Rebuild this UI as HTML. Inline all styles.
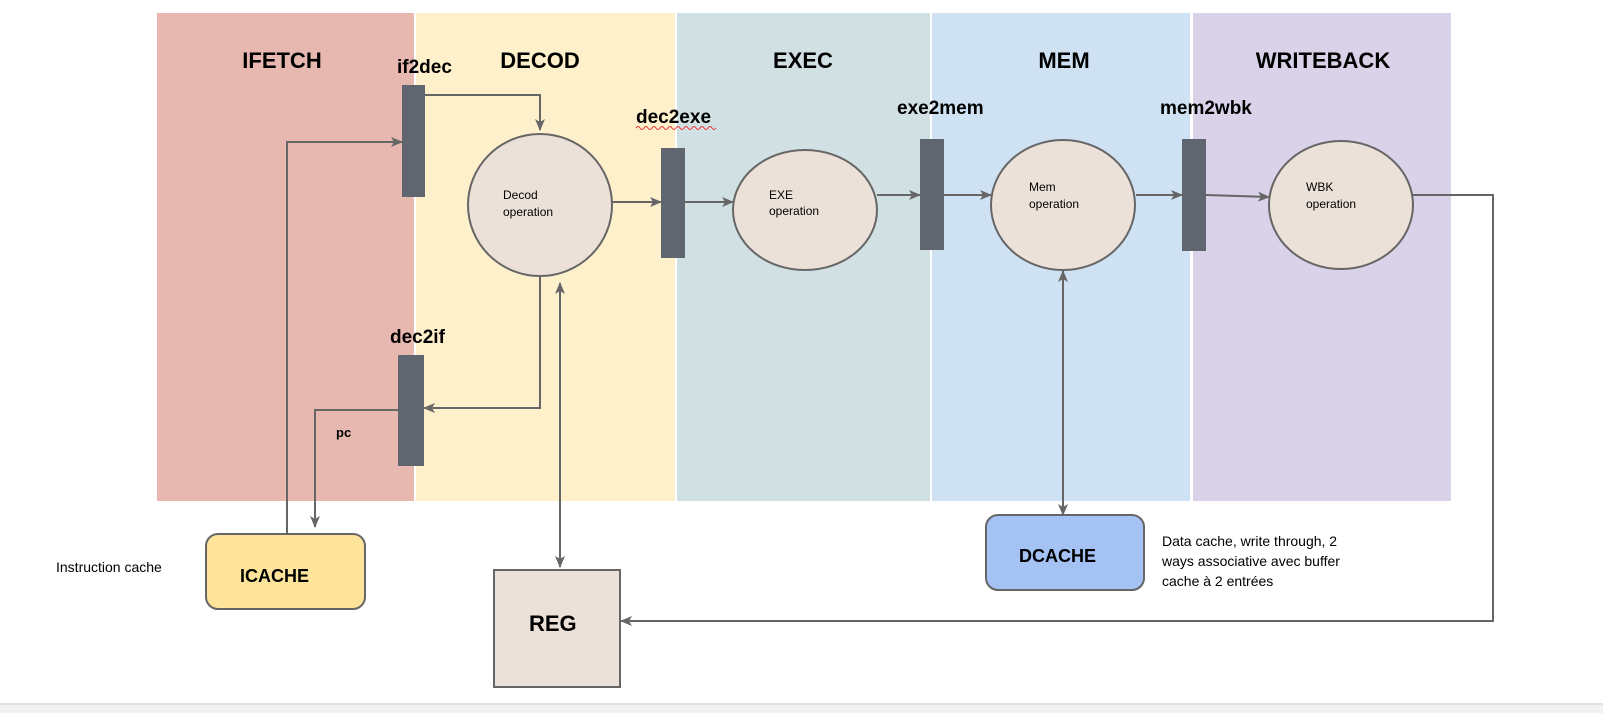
<!DOCTYPE html>
<html><head><meta charset="utf-8"><style>
body{margin:0;width:1603px;height:713px;overflow:hidden;background:#fff;font-family:"Liberation Sans",sans-serif}
</style></head><body>
<svg width="1603" height="713" xmlns="http://www.w3.org/2000/svg" font-family="Liberation Sans, sans-serif">
<defs>
<marker id="a" markerWidth="12" markerHeight="10" refX="11" refY="5" orient="auto-start-reverse" markerUnits="userSpaceOnUse"><path d="M0,0 L12,5 L0,10 L3,5 Z" fill="#666"/></marker>
</defs>
<rect x="0" y="704" width="1603" height="9" fill="#f1f1f1"/>
<rect x="0" y="703" width="1603" height="2" fill="#e2e2e2"/>
<rect x="157" y="13" width="257" height="488" fill="#e6b8b0"/>
<rect x="416" y="13" width="259" height="488" fill="#fff0cc"/>
<rect x="677" y="13" width="253" height="488" fill="#d0e0e3"/>
<rect x="932" y="13" width="258" height="488" fill="#cfe2f3"/>
<rect x="1193" y="13" width="258" height="488" fill="#d9d2e9"/>
<g font-weight="bold" font-size="22" text-anchor="middle" fill="#000">
<text x="282" y="68">IFETCH</text><text x="540" y="68">DECOD</text><text x="803" y="68">EXEC</text><text x="1064" y="68">MEM</text><text x="1323" y="68">WRITEBACK</text>
</g>
<g font-weight="bold" font-size="19" fill="#000">
<text x="397" y="73">if2dec</text><text x="636" y="123">dec2exe</text><text x="897" y="114">exe2mem</text><text x="1160" y="114">mem2wbk</text><text x="390" y="343">dec2if</text>
</g>
<path d="M636,128 q2,-3 4,0 t4,0 t4,0 t4,0 t4,0 t4,0 t4,0 t4,0 t4,0 t4,0 t4,0 t4,0 t4,0 t4,0 t4,0 t4,0 t4,0 t4,0 t4,0 t4,0" fill="none" stroke="#e33" stroke-width="1"/>
<g fill="none" stroke="#666" stroke-width="2">
<path d="M425,95 H540 V130" marker-end="url(#a)"/>
<path d="M287,534 V142 H402" marker-end="url(#a)"/>
<path d="M540,270 V408 H424" marker-end="url(#a)"/>
<path d="M398,410 H315 V527" marker-end="url(#a)"/>
<path d="M560,283 V567" marker-start="url(#a)" marker-end="url(#a)"/>
<path d="M612,202 H661" marker-end="url(#a)"/>
<path d="M685,202 H733" marker-end="url(#a)"/>
<path d="M877,195 H920" marker-end="url(#a)"/>
<path d="M944,195 H991" marker-end="url(#a)"/>
<path d="M1136,195 H1182" marker-end="url(#a)"/>
<path d="M1206,195 L1269,197" marker-end="url(#a)"/>
<path d="M1413,195 H1493 V621 H621" marker-end="url(#a)"/>
<path d="M1063,271 V515" marker-start="url(#a)" marker-end="url(#a)"/>
</g>
<g fill="#5f6670">
<rect x="402" y="85" width="23" height="112"/><rect x="661" y="148" width="24" height="110"/>
<rect x="920" y="139" width="24" height="111"/><rect x="1182" y="139" width="24" height="112"/>
<rect x="398" y="355" width="26" height="111"/>
</g>
<g fill="#ece1d8" stroke="#666" stroke-width="2">
<ellipse cx="540" cy="205" rx="72" ry="71"/>
<ellipse cx="805" cy="210" rx="72" ry="60"/>
<ellipse cx="1063" cy="205" rx="72" ry="65"/>
<ellipse cx="1341" cy="205" rx="72" ry="64"/>
</g>
<g font-size="12" fill="#000">
<text x="503" y="199">Decod</text><text x="503" y="216">operation</text>
<text x="769" y="199">EXE</text><text x="769" y="215">operation</text>
<text x="1029" y="191">Mem</text><text x="1029" y="208">operation</text>
<text x="1306" y="191">WBK</text><text x="1306" y="208">operation</text>
</g>
<rect x="206" y="534" width="159" height="75" rx="12" fill="#fde49a" stroke="#666" stroke-width="2"/>
<rect x="494" y="570" width="126" height="117" fill="#ece1d8" stroke="#666" stroke-width="2"/>
<rect x="986" y="515" width="158" height="75" rx="12" fill="#a4c2f4" stroke="#666" stroke-width="2"/>
<g font-weight="bold" fill="#000">
<text x="240" y="582" font-size="18">ICACHE</text>
<text x="529" y="631" font-size="22">REG</text>
<text x="1019" y="562" font-size="18">DCACHE</text>
<text x="336" y="437" font-size="13">pc</text>
</g>
<g font-size="14" fill="#000">
<text x="56" y="572">Instruction cache</text>
<text x="1162" y="546">Data cache, write through, 2</text>
<text x="1162" y="566">ways associative avec buffer</text>
<text x="1162" y="586">cache à 2 entrées</text>
</g>
</svg>
</body></html>
